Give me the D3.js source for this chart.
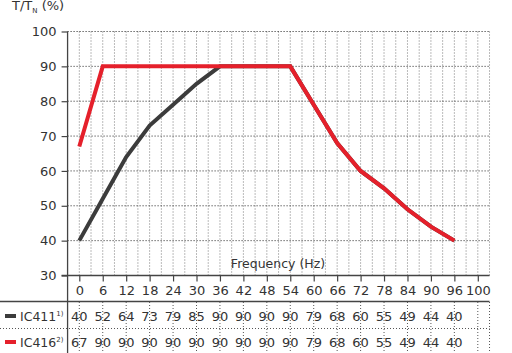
<!DOCTYPE html>
<html>
<head>
<meta charset="utf-8">
<script src="https://cdn.jsdelivr.net/npm/d3@7"></script>
<style>
  html, body { margin: 0; padding: 0; background: #fff; }
  svg { display: block; font-family: "DejaVu Sans", sans-serif; }
</style>
</head>
<body>
<svg id="chart" width="512" height="353"></svg>
<script>
// ---- data ----
const tickLabels = ["0","6","12","18","24","30","36","42","48","54","60","66","72","78","84","90","96","100"];
const frequencies = [0,6,12,18,24,30,36,42,48,54,60,66,72,78,84,90,96];
const ic411 = [40,52,64,73,79,85,90,90,90,90,79,68,60,55,49,44,40];
const ic416 = [67,90,90,90,90,90,90,90,90,90,79,68,60,55,49,44,40];
const yTicks = [30,40,50,60,70,80,90,100];
const seriesNames = ["IC411", "IC416"];
const seriesNotes = ["1)", "2)"];

// ---- layout ----
const svg = d3.select("#chart");
const x = d3.scalePoint().domain(tickLabels).range([79.3, 477.8]);
const step = x.step();
const left = x("0") - step / 2, right = x("100") + step / 2;
const y = d3.scaleLinear().domain([30, 100]).range([275.5, 31.5]);
const textCol = "#333";
const darkCol = "#3c3c3c", redCol = "#e5202b";

// vertical dotted grid (every half step)
const vgrid = d3.range(1, tickLabels.length * 2 + 1).map(k => left + k * step / 2);
svg.append("g").selectAll("line").data(vgrid).join("line")
  .attr("x1", d => d).attr("x2", d => d)
  .attr("y1", y(100)).attr("y2", y(30))
  .attr("stroke", "#777").attr("stroke-width", 1).attr("stroke-dasharray", "1,2");

// horizontal dotted grid
svg.append("g").selectAll("line").data(yTicks.filter(v => v > 30)).join("line")
  .attr("x1", left).attr("x2", right)
  .attr("y1", d => y(d)).attr("y2", d => y(d))
  .attr("stroke", "#222").attr("stroke-width", 1).attr("stroke-dasharray", "1,2");

// y axis
const yAxis = svg.append("g").attr("transform", `translate(${left},0)`)
  .call(d3.axisLeft(y).tickValues(yTicks).tickSize(6).tickPadding(5));
yAxis.select(".domain").remove();
yAxis.selectAll(".tick line").attr("stroke", "#444").attr("stroke-width", 1.2);
yAxis.selectAll(".tick text").attr("fill", textCol).style("font-size", "13px")
  .style("font-family", "DejaVu Sans, sans-serif");
svg.append("line").attr("x1", left).attr("x2", left).attr("y1", y(100)).attr("y2", 353)
  .attr("stroke", "#444").attr("stroke-width", 1.3);

// x axis
const xAxis = svg.append("g").attr("transform", `translate(0,${y(30)})`)
  .call(d3.axisBottom(x).tickSize(6).tickPadding(4));
xAxis.select(".domain").remove();
xAxis.selectAll(".tick line").attr("stroke", "#444").attr("stroke-width", 1.2);
xAxis.selectAll(".tick text").attr("fill", textCol).style("font-size", "13px")
  .style("font-family", "DejaVu Sans, sans-serif");
svg.append("line").attr("x1", left - 6).attr("x2", right).attr("y1", y(30)).attr("y2", y(30))
  .attr("stroke", "#444").attr("stroke-width", 1.3);

// axis titles
svg.append("text").attr("x", 278).attr("y", 268).attr("text-anchor", "middle")
  .attr("fill", textCol).style("font-size", "12.5px").text("Frequency (Hz)");
const yt = svg.append("text").attr("x", 12).attr("y", 10).attr("fill", textCol).style("font-size", "13px");
yt.append("tspan").text("T/T");
yt.append("tspan").attr("dy", 3).style("font-size", "7px").text("N");
yt.append("tspan").attr("dy", -3).text(" (%)");

// lines
const line = d3.line().x((d, i) => x(String(frequencies[i]))).y(d => y(d));
[[ic411, darkCol], [ic416, redCol]].forEach(([vals, col]) => {
  svg.append("path").datum(vals).attr("d", line)
    .attr("fill", "none").attr("stroke", col).attr("stroke-width", 4)
    .attr("stroke-linejoin", "miter");
});

// table
const rowY = [316, 342];
svg.append("line").attr("x1", 0).attr("x2", right).attr("y1", 301.5).attr("y2", 301.5)
  .attr("stroke", "#444").attr("stroke-width", 1.3);
svg.append("line").attr("x1", 0).attr("x2", right).attr("y1", 328.5).attr("y2", 328.5)
  .attr("stroke", "#555").attr("stroke-width", 1).attr("stroke-dasharray", "1,2");
const tgrid = vgrid.filter((d, k) => k % 2 === 0 || k === vgrid.length - 1);
svg.append("g").selectAll("line").data(tgrid).join("line")
  .attr("x1", d => d).attr("x2", d => d).attr("y1", 302).attr("y2", 353)
  .attr("stroke", "#555").attr("stroke-width", 1).attr("stroke-dasharray", "1,2");

[ic411, ic416].forEach((vals, r) => {
  const col = r === 0 ? darkCol : redCol;
  svg.append("rect").attr("x", 5).attr("y", rowY[r] - 2).attr("width", 11).attr("height", 4).attr("fill", col);
  const t = svg.append("text").attr("x", 20).attr("y", rowY[r] + 4.5).attr("fill", textCol).style("font-size", "12.5px");
  t.append("tspan").text(seriesNames[r]);
  t.append("tspan").attr("dy", -5).style("font-size", "7px").text(seriesNotes[r]);
  svg.append("g").selectAll("text").data(vals).join("text")
    .attr("x", (d, i) => x(String(frequencies[i]))).attr("y", rowY[r] + 4.5)
    .attr("text-anchor", "middle").attr("fill", textCol).style("font-size", "13px")
    .text(d => d);
});
</script>
</body>
</html>
